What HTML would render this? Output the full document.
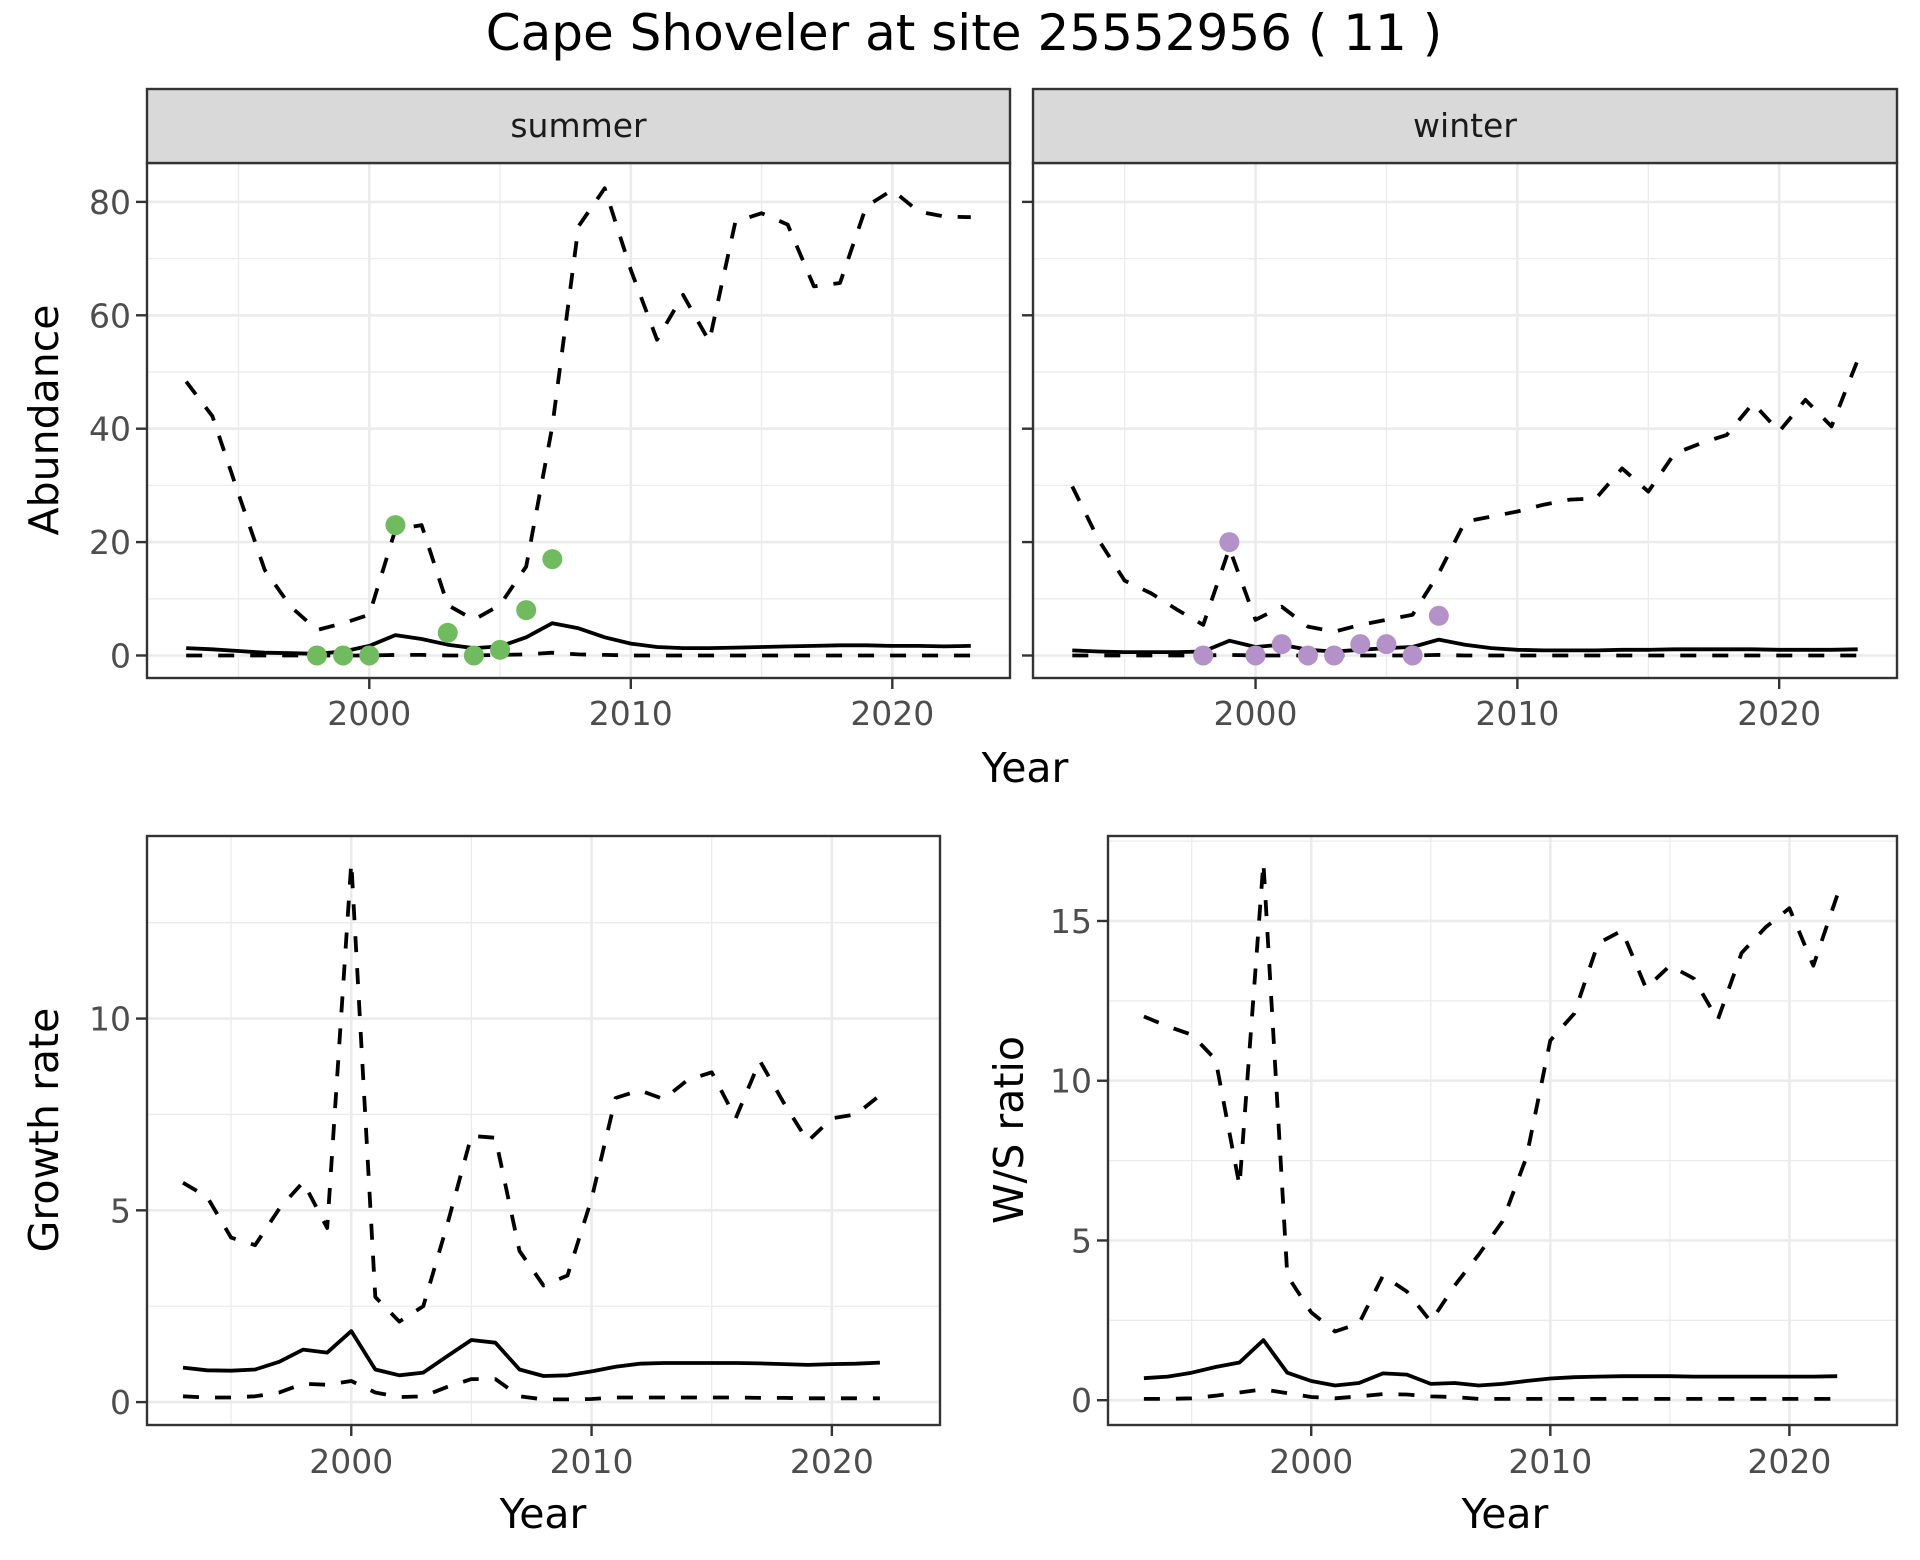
<!DOCTYPE html>
<html><head><meta charset="utf-8">
<style>
html,body{margin:0;padding:0;background:#fff;}
svg{display:block;font-family:"DejaVu Sans","Liberation Sans",sans-serif;}
</style></head>
<body>
<svg id="chart" width="1920" height="1560" viewBox="0 0 1920 1560" xmlns="http://www.w3.org/2000/svg">
<rect width="1920" height="1560" fill="#fff"/>
<text x="964" y="50" font-size="50" text-anchor="middle" fill="#000">Cape Shoveler at site 25552956 ( 11 )</text>
</svg>
<script>
const years = [1993,1994,1995,1996,1997,1998,1999,2000,2001,2002,2003,2004,2005,2006,2007,2008,2009,2010,2011,2012,2013,2014,2015,2016,2017,2018,2019,2020,2021,2022,2023];
const yearsB = [1993,1994,1995,1996,1997,1998,1999,2000,2001,2002,2003,2004,2005,2006,2007,2008,2009,2010,2011,2012,2013,2014,2015,2016,2017,2018,2019,2020,2021,2022];
const summerUpper = [48.3,42.2,28.5,15.1,8.6,4.5,5.7,7.2,22.2,23.0,8.9,6.3,8.9,15.7,40.4,75.7,82.4,68,55.7,63.6,55.4,76.5,78,76,65.1,65.7,79.2,82.1,78.3,77.4,77.3];
const summerMid = [1.3,1.1,0.8,0.5,0.4,0.3,0.7,1.7,3.6,2.9,1.9,1.3,1.6,3.2,5.7,4.8,3.2,2.1,1.5,1.3,1.3,1.4,1.5,1.6,1.7,1.8,1.8,1.7,1.7,1.6,1.7];
const summerLow = [0,0,0,0,0,0,0,0,0.1,0.1,0,0,0.1,0.2,0.5,0.2,0.1,0,0,0,0,0,0,0,0,0,0,0,0,0,0];
const summerObsYears = [1998,1999,2000,2001,2003,2004,2005,2006,2007];
const summerObs = [0,0,0,23,4,0,1,8,17];
const winterUpper = [29.8,20.4,13.2,11,8.1,5.4,18.9,6.3,8.6,5.1,4.2,5.4,6.3,7.2,14.5,23.6,24.5,25.4,26.6,27.5,27.7,33,28.9,35.6,37.4,38.9,44.5,39.5,45.1,40.4,52.1];
const winterMid = [0.9,0.7,0.6,0.6,0.6,0.7,2.6,1.5,1.9,1.0,0.7,1.0,1.3,1.5,2.8,1.9,1.3,1.0,0.9,0.9,0.9,1.0,1.0,1.1,1.1,1.1,1.1,1.0,1.0,1.0,1.1];
const winterLow = [0,0,0,0,0,0,0.1,0,0,0,0,0,0,0,0.1,0,0,0,0,0,0,0,0,0,0,0,0,0,0,0,0];
const winterObsYears = [1998,1999,2000,2001,2002,2003,2004,2005,2006,2007];
const winterObs = [0,20,0,2,0,0,2,2,0,7];
const growthUpper = [5.72,5.35,4.29,4.09,5.04,5.74,4.54,14.07,2.74,2.10,2.50,4.64,6.94,6.89,3.94,3.04,3.30,5.3,7.93,8.13,7.9,8.4,8.6,7.4,8.9,7.8,6.8,7.4,7.5,8.0];
const growthMid = [0.9,0.83,0.82,0.85,1.05,1.37,1.29,1.85,0.85,0.70,0.77,1.2,1.62,1.55,0.85,0.68,0.7,0.8,0.92,1.0,1.02,1.02,1.02,1.02,1.01,0.99,0.97,0.99,1.0,1.03];
const growthLow = [0.15,0.12,0.12,0.15,0.25,0.48,0.45,0.55,0.25,0.13,0.15,0.4,0.6,0.6,0.15,0.07,0.07,0.08,0.12,0.12,0.12,0.12,0.12,0.12,0.11,0.11,0.1,0.1,0.1,0.1];
const wsUpper = [12.01,11.7,11.44,10.66,6.71,16.83,3.9,2.75,2.15,2.4,3.9,3.4,2.46,3.59,4.55,5.6,7.6,11.26,12.1,14.3,14.7,12.9,13.6,13.2,11.9,14.0,14.8,15.4,13.6,15.8];
const wsMid = [0.69,0.74,0.86,1.04,1.18,1.88,0.86,0.6,0.46,0.54,0.84,0.8,0.51,0.54,0.46,0.51,0.6,0.68,0.72,0.74,0.75,0.75,0.75,0.74,0.74,0.74,0.74,0.74,0.74,0.75];
const wsLow = [0.04,0.04,0.06,0.14,0.24,0.34,0.22,0.1,0.06,0.12,0.19,0.18,0.12,0.1,0.04,0.04,0.04,0.04,0.04,0.04,0.04,0.04,0.04,0.04,0.04,0.04,0.04,0.04,0.04,0.04];
const xTicks = [2000,2010,2020];
const xMinor = [1995,2005,2015];
const topYTicks = [0,20,40,60,80];
const topYMinor = [10,30,50,70];
const growthYTicks = [0,5,10];
const growthYMinor = [2.5,7.5,12.5];
const wsYTicks = [0,5,10,15];
const wsYMinor = [2.5,7.5,12.5,17.5];

const NS = "http://www.w3.org/2000/svg";
const svg = document.getElementById('chart');
function mk(tag, attrs, parent){
  const e = document.createElementNS(NS, tag);
  for (const k in attrs) e.setAttribute(k, attrs[k]);
  (parent||svg).appendChild(e);
  return e;
}
function makePanel(name, L, R, T, B, xd, yd){
  const g = mk('g', {});
  
  
  const sx = v => L + (v - xd[0]) / (xd[1] - xd[0]) * (R - L);
  const sy = v => B - (v - yd[0]) / (yd[1] - yd[0]) * (B - T);
  return {g, sx, sy, L, R, T, B};
}
function grid(p, yTicks, yMinor){
  yMinor.forEach(v => { const y = p.sy(v); if (y > p.T && y < p.B) { const l = mk('line', {x1:p.L, x2:p.R, y1:y, y2:y, stroke:'#ebebeb', 'stroke-width':1.3}, p.g);   }});
  xMinor.forEach(v => { const x = p.sx(v); const l = mk('line', {x1:x, x2:x, y1:p.T, y2:p.B, stroke:'#ebebeb', 'stroke-width':1.3}, p.g);   });
  yTicks.forEach(v => { const y = p.sy(v); const l = mk('line', {x1:p.L, x2:p.R, y1:y, y2:y, stroke:'#ebebeb', 'stroke-width':2.6}, p.g);   });
  xTicks.forEach(v => { const x = p.sx(v); const l = mk('line', {x1:x, x2:x, y1:p.T, y2:p.B, stroke:'#ebebeb', 'stroke-width':2.6}, p.g);   });
}
function series(p, xs, vals, dashed, name){
  const d = vals.map((v,i) => (i ? 'L' : 'M') + p.sx(xs[i]).toFixed(1) + ' ' + p.sy(v).toFixed(1)).join(' ');
  const a = {d:d, fill:'none', stroke:'#000', 'stroke-width':3.8, 'stroke-linejoin':'round'};
  if (dashed) a['stroke-dasharray'] = '16 16';
  const path = mk('path', a, p.g);
  
  
}
function points(p, xs, vals, color, name){
  vals.forEach((v,i) => {
    const c = mk('circle', {cx:p.sx(xs[i]), cy:p.sy(v), r:10, fill:color}, p.g);
    
    
  });
}
function frame(p){
  const r = mk('rect', {x:p.L, y:p.T, width:p.R-p.L, height:p.B-p.T, fill:'none', stroke:'#333', 'stroke-width':2.4}, p.g);
  
  
}
function xAxis(p, labelY){
  xTicks.forEach(v => {
    const x = p.sx(v);
    const t = mk('line', {x1:x, x2:x, y1:p.B, y2:p.B+11, stroke:'#333', 'stroke-width':2.4}, p.g);
    
    
    const tx = mk('text', {x:x, y:labelY, 'font-size':33, 'text-anchor':'middle', fill:'#4d4d4d'}, p.g);
    tx.textContent = v;
    
    
  });
}
function yAxis(p, ticks, show){
  ticks.forEach(v => {
    const y = p.sy(v);
    const t = mk('line', {x1:p.L-11, x2:p.L, y1:y, y2:y, stroke:'#333', 'stroke-width':2.4}, p.g);
    
    
    if (show) {
      const tx = mk('text', {x:p.L-16, y:y+12, 'font-size':33, 'text-anchor':'end', fill:'#4d4d4d'}, p.g);
      tx.textContent = v;
      
      
    }
  });
}
function strip(p, label){
  const r = mk('rect', {x:p.L, y:89, width:p.R-p.L, height:74, fill:'#d9d9d9', stroke:'#333', 'stroke-width':2.4}, p.g);
  
  
  const t = mk('text', {x:(p.L+p.R)/2, y:137, 'font-size':33, 'text-anchor':'middle', fill:'#1a1a1a'}, p.g);
  t.textContent = label;
  
  
}
function title(txt, x, y, rot, name){
  const t = mk('text', {x:x, y:y, 'font-size':41, 'text-anchor':'middle', fill:'#000'});
  if (rot) t.setAttribute('transform', 'rotate(-90 ' + x + ' ' + y + ')');
  t.textContent = txt;
  
  
}
const XD = [1991.5, 2024.5];

// Summer
const ps = makePanel('summer', 147, 1010, 163, 678, XD, [-3.97, 86.86]);
grid(ps, topYTicks, topYMinor);
series(ps, years, summerUpper, true, 'summer-upper-bound');
series(ps, years, summerLow, true, 'summer-lower-bound');
series(ps, years, summerMid, false, 'summer-estimate');
points(ps, summerObsYears, summerObs, '#6fbb5e', 'summer-count-point');
frame(ps); strip(ps, 'summer'); xAxis(ps, 725); yAxis(ps, topYTicks, true);

// Winter
const pw = makePanel('winter', 1033, 1897, 163, 678, XD, [-3.97, 86.86]);
grid(pw, topYTicks, topYMinor);
series(pw, years, winterUpper, true, 'winter-upper-bound');
series(pw, years, winterLow, true, 'winter-lower-bound');
series(pw, years, winterMid, false, 'winter-estimate');
points(pw, winterObsYears, winterObs, '#b491c8', 'winter-count-point');
frame(pw); strip(pw, 'winter'); xAxis(pw, 725); yAxis(pw, topYTicks, false);

title('Year', 1025, 782, false, 'top-x-axis-title');
title('Abundance', 58, 420, true, 'abundance-y-axis-title');

// Growth rate
const pg = makePanel('growth-rate', 147, 940, 836, 1425, XD, [-0.597, 14.76]);
grid(pg, growthYTicks, growthYMinor);
series(pg, yearsB, growthUpper, true, 'growth-upper-bound');
series(pg, yearsB, growthLow, true, 'growth-lower-bound');
series(pg, yearsB, growthMid, false, 'growth-estimate');
frame(pg); xAxis(pg, 1473); yAxis(pg, growthYTicks, true);
title('Year', 543, 1528, false, 'growth-x-axis-title');
title('Growth rate', 58, 1130, true, 'growth-y-axis-title');

// W/S ratio
const pr = makePanel('ws-ratio', 1108, 1897, 836, 1425, XD, [-0.776, 17.66]);
grid(pr, wsYTicks, wsYMinor);
series(pr, yearsB, wsUpper, true, 'ws-upper-bound');
series(pr, yearsB, wsLow, true, 'ws-lower-bound');
series(pr, yearsB, wsMid, false, 'ws-estimate');
frame(pr); xAxis(pr, 1473); yAxis(pr, wsYTicks, true);
title('Year', 1505, 1528, false, 'ws-x-axis-title');
title('W/S ratio', 1023, 1130, true, 'ws-y-axis-title');
</script>
</body></html>
